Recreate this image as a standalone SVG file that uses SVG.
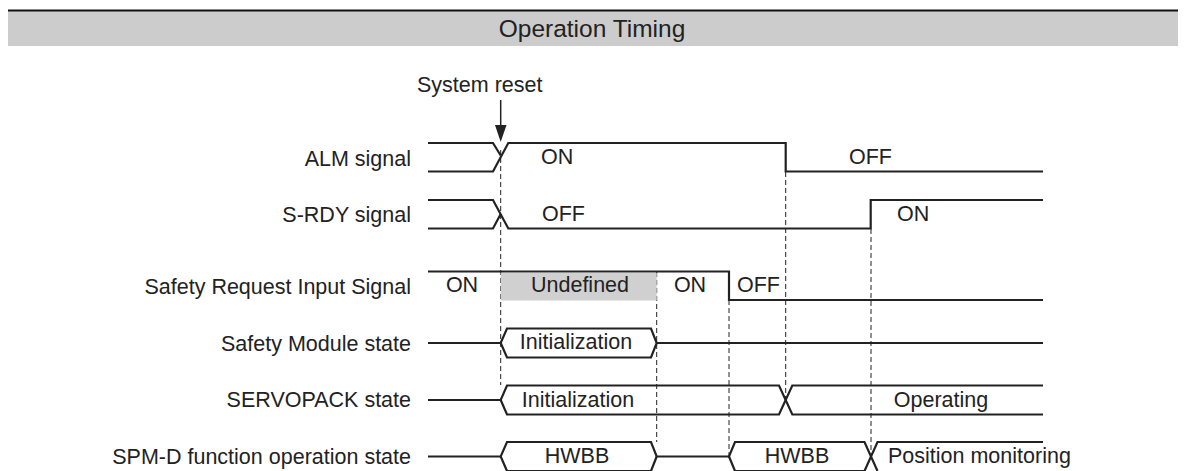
<svg xmlns="http://www.w3.org/2000/svg" width="1185" height="471" viewBox="0 0 1185 471">
<style>
text{font-family:"Liberation Sans",Arial,sans-serif;font-size:21.5px;fill:#222}
.lbl{text-anchor:end}
.mid{text-anchor:middle}
.sig{fill:none;stroke:#222;stroke-width:2.2;stroke-linejoin:miter}
.dash{fill:none;stroke:#222;stroke-width:1;stroke-dasharray:5 3}
</style>
<g id="header">
<rect x="8" y="11" width="1170" height="35" fill="#cccccc"/>
<line x1="8" y1="10.5" x2="1178" y2="10.5" stroke="#111" stroke-width="2"/>
<text x="592" y="37" class="mid" style="font-size:24.5px">Operation Timing</text>
</g>
<g id="system-reset">
<text x="417" y="92">System reset</text>
<line x1="500.7" y1="100" x2="500.7" y2="127" stroke="#222" stroke-width="1.5"/>
<polygon points="495,125 506.5,125 500.7,142" fill="#222"/>
</g>
<g id="connectors">
<line class="dash" x1="500.7" y1="150" x2="500.7" y2="385"/>
<line class="dash" x1="656.7" y1="272" x2="656.7" y2="442"/>
<line class="dash" x1="729" y1="300" x2="729" y2="456"/>
<line class="dash" x1="785.7" y1="172" x2="785.7" y2="400"/>
<line class="dash" x1="871" y1="229" x2="871" y2="456"/>
</g>
<g id="alm">
<text x="411" y="165.5" class="lbl">ALM signal</text>
<polyline class="sig" points="428,143 493,143 500.7,155.5"/>
<polyline class="sig" points="428,171.5 493,171.5 508.3,143 785.7,143 785.7,171.5 1043,171.5"/>
<text x="541" y="163.5">ON</text>
<text x="849" y="164">OFF</text>
</g>
<g id="srdy">
<text x="411" y="221.5" class="lbl">S-RDY signal</text>
<polyline class="sig" points="428,200 493,200 508.3,228.5 870.7,228.5 870.7,200 1043,200"/>
<polyline class="sig" points="428,228.5 493,228.5 500.7,214"/>
<text x="542" y="220.5">OFF</text>
<text x="897" y="220.5">ON</text>
</g>
<g id="safety-request">
<text x="411" y="293.5" class="lbl">Safety Request Input Signal</text>
<rect x="500.7" y="273" width="156" height="27.5" fill="#d0d0d0"/>
<polyline class="sig" points="428,271.5 729,271.5 729,300 1043,300"/>
<text x="462" y="292" class="mid">ON</text>
<text x="580" y="292" class="mid">Undefined</text>
<text x="690" y="292" class="mid">ON</text>
<text x="737" y="292">OFF</text>
</g>
<g id="safety-module">
<text x="411" y="350.5" class="lbl">Safety Module state</text>
<polyline class="sig" points="428,343 500.7,343 507,328.5 651,328.5 656.7,343 651,357.5 507,357.5 500.7,343"/>
<line class="sig" x1="656.7" y1="343" x2="1043" y2="343"/>
<text x="576" y="349" class="mid">Initialization</text>
</g>
<g id="servopack">
<text x="411" y="407" class="lbl">SERVOPACK state</text>
<polyline class="sig" points="428,400 500.7,400 507,385.5 779,385.5 792.3,414.5 1043,414.5"/>
<polyline class="sig" points="500.7,400 507,414.5 779,414.5 792.3,385.5 1043,385.5"/>
<text x="578" y="407" class="mid">Initialization</text>
<text x="941" y="406.5" class="mid">Operating</text>
</g>
<g id="spm-d">
<text x="411" y="463.5" class="lbl">SPM-D function operation state</text>
<polyline class="sig" points="428,456.5 500.7,456.5 507,442 651,442 656.7,456.5 729,456.5 735,442 864.5,442 877.5,471"/>
<polyline class="sig" points="500.7,456.5 507,471 651,471 656.7,456.5"/>
<polyline class="sig" points="729,456.5 735,471 864.5,471 877.5,442 1043,442"/>
<text x="577" y="462.5" class="mid">HWBB</text>
<text x="797" y="462.5" class="mid">HWBB</text>
<text x="888" y="462.5">Position monitoring</text>
</g>
</svg>
